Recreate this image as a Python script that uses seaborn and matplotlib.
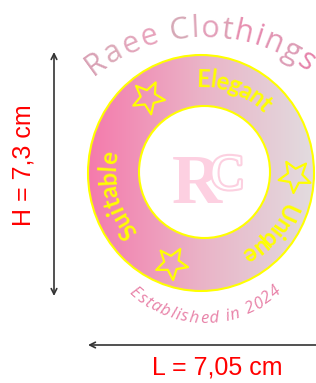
import numpy as np
import pandas as pd
import matplotlib
matplotlib.use("Agg")
import matplotlib.pyplot as plt
import seaborn as sns
from matplotlib.patches import Ellipse
from matplotlib.colors import LinearSegmentedColormap
from matplotlib.font_manager import FontProperties
from matplotlib.textpath import TextToPath
from matplotlib.path import Path
from matplotlib.markers import MarkerStyle
from matplotlib.transforms import Affine2D
import matplotlib.patheffects as pe

# texts of the logo
brand = "Raee Clothings"
brand_colors = ["#d9a2b5", "#dcaab9", "#e2a6bb", "#e7a2bb", "#ffffff", "#d6a8b6", "#dea8ba",
                "#e39fb9", "#dea0b5", "#e78fb0", "#e68bb0", "#e295b3", "#dd9db6", "#e684ab"]
tagline = "Established in 2024"
tagline_color = "#e882a8"
ring_words = ["Elegant", "Unique", "Suitable"]
word_start = [93, -19, 223]
word_end = [44, -63, 166]
word_radius = [86, 87, 85]
star_angles = [125, -2, 252]
star_radius = [92, 94, 95]
star_tilt = [190, 175, 185]
height_label = "H = 7,3 cm"
width_label = "L = 7,05 cm"

sns.set_theme(style="white")
plt.rcParams["font.family"] = ["DejaVu Sans"]

fig = plt.figure(figsize=(3.16, 3.83), dpi=100, facecolor="white")
ax = fig.add_axes([0, 0, 1, 1])

cx, cy = 201, 173
t2p = TextToPath()


def char_px(c, fp):
    w2 = t2p.get_text_width_height_descent("x" + c + "x", fp, ismath=False)[0]
    w0 = t2p.get_text_width_height_descent("xx", fp, ismath=False)[0]
    return (w2 - w0) * 100 / 72


def arc_text(text, ccx, ccy, r, a0, a1, size, colors, family, weight="normal", style="normal", z=6):
    fp = FontProperties(family=family, size=size, weight=weight, style=style)
    widths = [char_px(c, fp) for c in text]
    arc = abs(a1 - a0) * np.pi / 180 * r
    gap = (arc - sum(widths)) / (len(text) - 1)
    sign = -1 if a1 < a0 else 1
    pos = 0
    for c, w, col in zip(text, widths, colors):
        ang = a0 + sign * np.degrees((pos + w / 2) / r)
        x = ccx + r * np.cos(np.radians(ang))
        y = ccy - r * np.sin(np.radians(ang))
        rot = ang - 90 if sign < 0 else ang + 90
        ax.text(x, y, c, fontproperties=fp, color=col, rotation=rot,
                rotation_mode="anchor", ha="center", va="baseline", zorder=z)
        pos += w + gap


# ring with gradient
cmap = LinearSegmentedColormap.from_list("ring", ["#f57aac", "#eab3c7", "#e2dcdf"])
grad = np.linspace(0, 1, 256).reshape(1, -1)
img = ax.imshow(grad, cmap=cmap, extent=(88, 314, 291, 55), aspect="auto", zorder=1)
outer = Ellipse((cx, cy), 226, 236, facecolor="none", edgecolor="#ffff00", lw=1.5, zorder=2)
ax.add_patch(outer)
img.set_clip_path(outer)
inner = Ellipse((204.5, 172), 131, 132, facecolor="white", edgecolor="#ffff00", lw=1.5, zorder=3)
ax.add_patch(inner)

# words inside the ring
for word, a0, a1, r in zip(ring_words, word_start, word_end, word_radius):
    arc_text(word, cx, cy, r, a0, a1, 17, ["#ffff00"] * len(word), "Lato", weight="bold")

# stars
star_df = pd.DataFrame({
    "x": cx + np.array(star_radius) * np.cos(np.radians(star_angles)),
    "y": cy - np.array(star_radius) * np.sin(np.radians(star_angles)),
})
for i, row in star_df.iterrows():
    m = MarkerStyle(Path.unit_regular_star(5, 0.45).transformed(Affine2D().rotate_deg(star_tilt[i])))
    sns.scatterplot(x=[row.x], y=[row.y], marker=m, s=580, color="#ffff00",
                    facecolor="none", edgecolor="#ffff00", linewidth=1.6,
                    ax=ax, zorder=5, legend=False)

# curved brand name and tagline
arc_text(brand, 203, 211, 174, 129, 53, 22, brand_colors, "Open Sans")
arc_text(tagline, 204.5, 212, 111, 227, 314, 12, [tagline_color] * len(tagline),
         "Open Sans", style="italic")

# monogram
ax.text(197, 203, "R", family="Liberation Serif", weight="bold", fontsize=50,
        color="#fdd0e1", ha="center", va="baseline", zorder=6)
ax.text(227, 189, "C", family="Liberation Serif", fontsize=36, color="white",
        ha="center", va="baseline", zorder=6,
        path_effects=[pe.Stroke(linewidth=3, foreground="#fcd0e0"), pe.Normal()])

# dimension arrows
ax.annotate("", xy=(54, 52), xytext=(54, 296),
            arrowprops=dict(arrowstyle="<->", color="#333333", lw=1.2,
                            shrinkA=0, shrinkB=0, mutation_scale=10))
ax.annotate("", xy=(88, 345), xytext=(330, 345),
            arrowprops=dict(arrowstyle="->", color="#333333", lw=1.2,
                            shrinkA=0, shrinkB=0, mutation_scale=10))
ax.text(24, 165, height_label, rotation=90, color="#ff0000", fontsize=18,
        family="Liberation Sans", ha="center", va="center")
ax.text(217, 367, width_label, color="#ff0000", fontsize=18,
        family="Liberation Sans", ha="center", va="center")

ax.set_xlim(0, 316)
ax.set_ylim(383, 0)
ax.axis("off")
fig.savefig("out.png", dpi=100, facecolor="white")
